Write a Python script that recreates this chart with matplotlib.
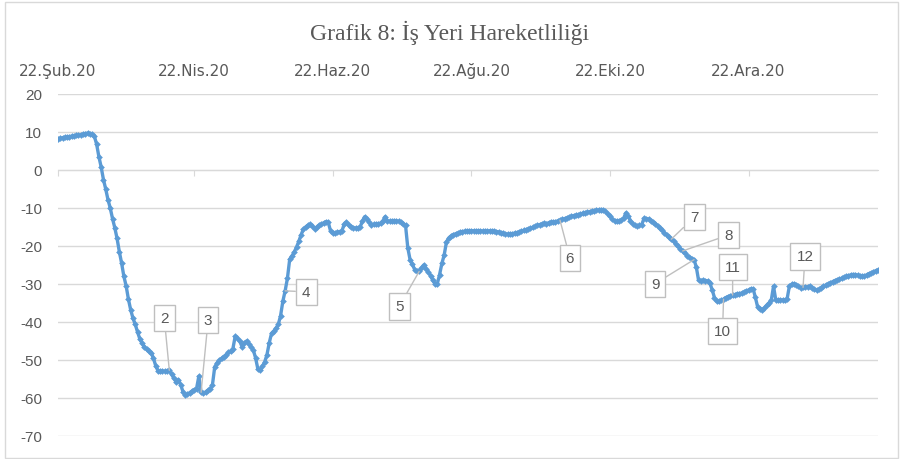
import matplotlib
matplotlib.use("Agg")
import matplotlib.pyplot as plt
import matplotlib.dates as mdates
import pandas as pd
from matplotlib.patches import Rectangle

# Daily values, starting 22.02.2020
START = "2020-02-22"
values = [
    8.2, 8.3, 8.5, 8.6, 8.7, 8.8, 8.9, 9.0, 9.1, 9.1,
    9.3, 9.4, 9.6, 9.7, 9.6, 9.4, 8.9, 6.8, 3.5, 0.8,
    -2.5, -5.0, -7.8, -10.0, -12.8, -15.2, -18.0, -21.5, -24.5, -28.0,
    -30.5, -34.0, -36.8, -39.0, -40.6, -42.6, -44.4, -45.6, -46.5, -47.2,
    -47.7, -48.1, -49.5, -51.5, -52.8, -53.0, -52.9, -53.0, -52.8, -52.7,
    -53.8, -54.8, -55.7, -55.2, -56.5, -58.3, -59.3, -59.0, -58.6, -58.2,
    -57.8, -57.5, -54.3, -58.5, -58.8, -58.4, -58.0, -57.5, -56.5, -51.8,
    -50.8, -50.1, -49.6, -49.1, -48.6, -48.0, -47.6, -47.0, -43.8, -44.3,
    -45.0, -46.5, -45.6, -45.0, -45.8, -46.5, -47.4, -49.5, -52.4, -52.7,
    -51.7, -50.5, -48.6, -45.5, -43.0, -42.4, -41.6, -40.6, -38.3, -34.5,
    -31.8, -28.5, -23.5, -22.6, -21.6, -20.3, -18.8, -17.1, -15.6, -15.0,
    -14.6, -14.3, -14.8, -15.5, -15.0, -14.5, -14.2, -13.9, -13.6, -13.8,
    -16.1, -16.5, -16.6, -16.4, -16.2, -16.0, -14.3, -13.7, -14.6, -14.9,
    -15.2, -15.3, -15.2, -15.0, -13.5, -12.3, -13.0, -13.8, -14.4, -14.3,
    -14.2, -14.1, -14.0, -13.4, -12.3, -13.4, -13.5, -13.4, -13.3, -13.4,
    -13.5, -13.7, -14.1, -14.6, -20.5, -23.6, -24.8, -26.2, -26.5, -26.7,
    -25.8, -25.0, -26.0, -26.8, -27.8, -29.0, -30.0, -29.9, -27.5, -24.6,
    -22.4, -19.0, -17.9, -17.4, -17.0, -16.8, -16.6, -16.4, -16.2, -16.1,
    -16.1, -16.0, -16.0, -16.0, -16.1, -16.0, -16.0, -16.1, -16.0, -16.1,
    -16.0, -16.0, -16.1, -16.2, -16.3, -16.5, -16.6, -16.8, -16.9, -16.9,
    -16.8, -16.6, -16.5, -16.3, -16.1, -15.9, -15.7, -15.5, -15.3, -15.1,
    -14.8, -14.6, -14.4, -14.2, -14.0, -14.1, -13.9, -13.7, -13.8, -13.6,
    -13.4, -13.2, -13.0, -12.8, -12.6, -12.4, -12.2, -12.0, -11.9, -11.8,
    -11.6, -11.4, -11.2, -11.1, -11.0, -10.8, -10.7, -10.6, -10.5, -10.4,
    -10.5, -10.8, -11.5, -12.1, -13.0, -13.3, -13.4, -13.4, -13.1, -12.7,
    -11.3, -12.1, -13.3, -14.1, -14.6, -14.8, -14.6, -14.4, -12.7, -12.8,
    -12.9, -13.3, -13.7, -14.1, -14.7, -15.3, -15.9, -16.5, -17.1, -17.7,
    -18.2, -18.8, -19.5, -20.1, -20.7, -21.3, -21.9, -22.5, -22.9, -23.3,
    -23.6, -25.5, -29.0, -29.1, -29.0, -29.1, -29.2, -29.8, -31.5, -33.6,
    -34.6, -34.5, -34.3, -34.0, -33.6, -33.3, -33.1, -32.9, -32.8, -32.6,
    -32.5, -32.4, -32.1, -31.8, -31.6, -31.3, -31.2, -33.5, -36.0, -36.5,
    -36.9, -36.3, -35.6, -35.0, -34.3, -30.6, -34.2, -34.3, -34.2, -34.2,
    -34.3, -33.9, -30.5, -30.1, -29.9, -30.2, -30.6, -31.0, -30.9, -30.8,
    -30.7, -30.6, -31.0, -31.4, -31.6, -31.4, -31.0, -30.6, -30.3, -30.0,
    -29.7, -29.4, -29.1, -28.9, -28.7, -28.5, -28.2, -28.0, -27.8, -27.6,
    -27.5, -27.5, -27.7, -27.9, -28.0, -27.9, -27.6, -27.3, -27.1, -26.8,
    -26.5, -26.3,
]

tick_dates = ["2020-02-22", "2020-04-22", "2020-06-22",
              "2020-08-22", "2020-10-22", "2020-12-22"]
tick_labels = ["22.Şub.20", "22.Nis.20", "22.Haz.20",
               "22.Ağu.20", "22.Eki.20", "22.Ara.20"]
y_ticks = [20, 10, 0, -10, -20, -30, -40, -50, -60, -70]

# callouts: label, day index of the marked point, box offset (pixels)
callout_labels = ["2", "3", "4", "5", "6", "7", "8", "9", "10", "11", "12"]
callout_days = [49, 63, 100, 159, 221, 270, 275, 280, 293, 297, 328]
callout_offsets = [(-5, 52), (7, 72), (21, -1), (-20, -35), (10, -38),
                   (23, 22), (46, 16), (-39, -24), (-1, -32), (0, 28), (2, 31)]

BLUE = "#5B9BD5"
TXT = "#595959"
GRID = "#D9D9D9"
SANS = "Liberation Sans"

dates = pd.date_range(START, periods=len(values), freq="D")

fig = plt.figure(figsize=(9, 4.6), dpi=100)
ax = fig.add_axes([58 / 900, 1 - 437 / 460, 820 / 900, 342 / 460])

ax.plot(dates, values, color=BLUE, lw=2.4, marker="D", markersize=3.4,
        markeredgewidth=0, zorder=3)

ax.set_ylim(-70, 20)
ax.set_xlim(dates[0], dates[-1])
ax.set_yticks(y_ticks)
ax.set_yticklabels([str(v) for v in y_ticks], family=SANS)
ax.grid(axis="y", color=GRID, lw=1)
ax.set_axisbelow(True)

ax.set_xticks(mdates.date2num(pd.to_datetime(tick_dates)))
ax.set_xticklabels(tick_labels, family=SANS)
ax.tick_params(axis="x", bottom=True, top=False, labelbottom=False,
               labeltop=True, direction="out", length=4, color=GRID,
               labelsize=11, labelcolor=TXT, pad=7.5)
ax.tick_params(axis="y", left=False, labelsize=11, labelcolor=TXT, pad=8)

for side in ["top", "right", "left"]:
    ax.spines[side].set_visible(False)
ax.spines["bottom"].set_position(("data", 0))
ax.spines["bottom"].set_color(GRID)

for lab, d, off in zip(callout_labels, callout_days, callout_offsets):
    ax.annotate(lab, xy=(dates[d], values[d]), xytext=off,
                textcoords="offset pixels", ha="center", va="center",
                fontsize=11, color=TXT, family=SANS, zorder=5,
                bbox=dict(boxstyle="square,pad=0.4", fc="white",
                          ec="#BFBFBF", lw=1),
                arrowprops=dict(arrowstyle="-", color="#BFBFBF", lw=1,
                                shrinkA=0, shrinkB=0))

fig.text(0.5, 1 - 33 / 460, "Grafik 8: İş Yeri Hareketliliği",
         ha="center", va="center", fontsize=17, color=TXT,
         family="Liberation Serif")

fig.patches.append(Rectangle((5 / 900, 1 / 460), 893 / 900, 456 / 460,
                             transform=fig.transFigure, fill=False,
                             ec=GRID, lw=1))

fig.savefig("out.png", dpi=100)
